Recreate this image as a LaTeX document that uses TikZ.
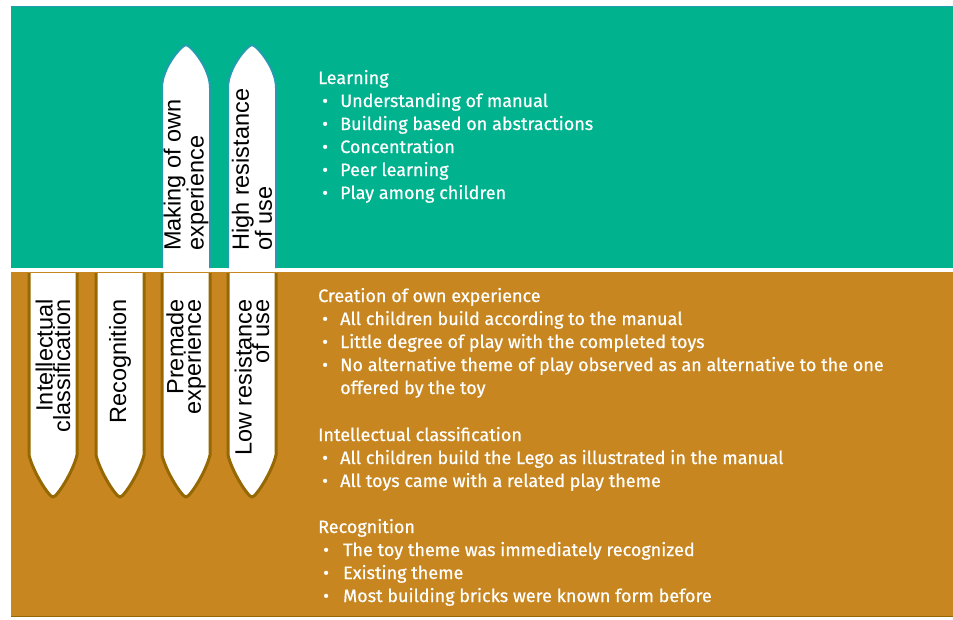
\documentclass[tikz,border=0pt]{standalone}
\usepackage{fontspec}
\setmainfont{Fira Sans}
\newfontfamily\listefont{Fira Sans}[FakeBold=0.6]
\newfontfamily\crayonfont{Liberation Sans}
\usetikzlibrary{positioning}

\definecolor{vert}{RGB}{0,178,142}
\definecolor{vertbord}{RGB}{34,156,174}
\definecolor{ocre}{RGB}{199,134,32}
\definecolor{ocrebord}{RGB}{150,104,4}

\newcommand{\puce}{\hspace*{4pt}\makebox[18pt][l]{•}}
\newcommand{\pucer}{\hspace*{5pt}\makebox[20pt][l]{•}}

\begin{document}
\begin{tikzpicture}[x=1pt,y=-1pt,
  crayonhaut/.style={fill=white,draw=vertbord,line width=2pt,line join=round},
  crayonbas/.style={fill=white,draw=ocrebord,line width=3pt,line join=round},
  etiq/.style={font=\crayonfont\fontsize{23.5}{17.5}\selectfont,text=black,rotate=90,inner sep=0pt},
  liste/.style={font=\listefont\fontsize{18}{23}\selectfont,text=white,align=left,inner sep=0pt,anchor=base west}]

\useasboundingbox (0,0) rectangle (953,619);

  % bandes
\fill[vert] (11,6) rectangle (953,268);
\draw[vertbord,line width=1pt] (11,6.5) -- (953,6.5);
\fill[ocre] (11,272) rectangle (953,617);
\draw[ocrebord,line width=1.5pt] (11,616.5) -- (953,616.5);

  % crayons vers le haut
\foreach \x in {162,228}
{
  \draw[crayonhaut] (\x,268) -- (\x,88) .. controls (\x,68) and (\x+19,46) .. (\x+24,45)
        .. controls (\x+29,46) and (\x+48,68) .. (\x+48,88) -- (\x+48,268);
}

  % crayons vers le bas
\foreach \x in {29,96,162,228}
{
  \draw[crayonbas] (\x,273) -- (\x,455) .. controls (\x+4,472) and (\x+20,497) .. (\x+24,497)
        .. controls (\x+28,497) and (\x+44,472) .. (\x+48,455) -- (\x+48,273);
}

  % textes des crayons
\node[etiq,anchor=west,align=left] (mkown) at (186,251) {Making of own\\experience};
\node[etiq,anchor=west,align=left] (highres) at (252,251) {High resistance\\of use};
\node[etiq,anchor=east,align=right] (intcl) at (53,299) {Intellectual\\classification};
\node[etiq,anchor=east,align=right] (recog) at (120,299) {Recognition};
\node[etiq,anchor=east,align=right] (premade) at (186,299) {Premade\\experience};
\node[etiq,anchor=east,align=right] (lowres) at (252,299) {Low resistance\\of use};

  % listes (ancrées sur la dernière ligne)
\node[liste] (learn) at (318,199) {Learning\\
  \puce Understanding of manual\\
  \puce Building based on abstractions\\
  \puce Concentration\\
  \puce Peer learning\\
  \puce Play among children};

\node[liste] (creation) at (318,394) {Creation of own experience\\
  \puce All children build according to the manual\\
  \puce Little degree of play with the completed toys\\
  \puce No alternative theme of play observed as an alternative to the one\\
  \hspace*{22pt}offered by the toy};

\node[liste] (intlist) at (318,487) {Intellectual classification\\
  \puce All children build the Lego as illustrated in the manual\\
  \puce All toys came with a related play theme};

\node[liste] (reclist) at (318,602) {Recognition\\
  \pucer The toy theme was immediately recognized\\
  \pucer Existing theme\\
  \pucer Most building bricks were known form before};

\end{tikzpicture}
\end{document}
